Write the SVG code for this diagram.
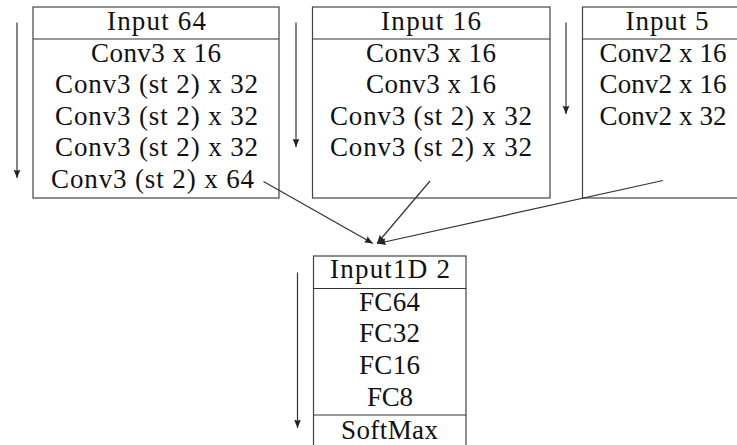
<svg xmlns="http://www.w3.org/2000/svg" width="737" height="445" viewBox="0 0 737 445">
<style>
.box{fill:#fff;stroke:#444;stroke-width:1.2}
.div{stroke:#333;stroke-width:1.2}
.t{font-family:"Liberation Serif","Times New Roman",serif;font-size:27px;fill:#111;text-anchor:middle}
.ts{font-family:"Liberation Serif","Times New Roman",serif;font-size:27px;fill:#111}
.c{stroke:#333;stroke-width:1.2;fill:none;marker-end:url(#ah)}
</style>
<defs>
<marker id="ah" markerUnits="userSpaceOnUse" markerWidth="10" markerHeight="8" refX="8.5" refY="3.5" orient="auto">
<path d="M0,0 L8.5,3.5 L0,7 Q2,3.5 0,0 z" fill="#222"/>
</marker>
</defs>
<rect width="737" height="445" fill="#fff"/>
<g id="input64">
<rect class="box" x="33" y="7" width="246" height="191"/>
<line class="div" x1="33" y1="39" x2="279" y2="39"/>
<text class="t" x="156.5" y="29.5" textLength="99">Input 64</text>
<text class="t" x="156" y="61.5" textLength="130">Conv3 x 16</text>
<text class="t" x="156.5" y="93" textLength="203">Conv3 (st 2) x 32</text>
<text class="t" x="156.5" y="124.5" textLength="203">Conv3 (st 2) x 32</text>
<text class="t" x="156.5" y="156" textLength="203">Conv3 (st 2) x 32</text>
<text class="t" x="152.5" y="187.5" textLength="203">Conv3 (st 2) x 64</text>
</g>
<g id="input16">
<rect class="box" x="312.5" y="7" width="237.5" height="191"/>
<line class="div" x1="312.5" y1="39" x2="550" y2="39"/>
<text class="t" x="431" y="29.5" textLength="100">Input 16</text>
<text class="t" x="431" y="61.5" textLength="130">Conv3 x 16</text>
<text class="t" x="431" y="93" textLength="130">Conv3 x 16</text>
<text class="t" x="431" y="124.5" textLength="202">Conv3 (st 2) x 32</text>
<text class="t" x="431" y="156" textLength="202">Conv3 (st 2) x 32</text>
</g>
<g id="input5">
<rect class="box" x="582.5" y="7" width="170" height="191"/>
<line class="div" x1="582.5" y1="39" x2="752.5" y2="39"/>
<text class="t" x="667" y="29.5" textLength="83">Input 5</text>
<text class="ts" x="599.5" y="61.5" textLength="127">Conv2 x 16</text>
<text class="ts" x="599.5" y="93" textLength="127">Conv2 x 16</text>
<text class="ts" x="599.5" y="124.5" textLength="127">Conv2 x 32</text>
</g>
<g id="input1d">
<rect class="box" x="313.5" y="256" width="152.5" height="200"/>
<line class="div" x1="313.5" y1="288.5" x2="466" y2="288.5"/>
<line class="div" x1="313.5" y1="415" x2="466" y2="415"/>
<text class="t" x="390" y="277.5" textLength="120">Input1D 2</text>
<text class="t" x="389.5" y="310.5" textLength="61">FC64</text>
<text class="t" x="389.5" y="342" textLength="61">FC32</text>
<text class="t" x="389.5" y="373.5" textLength="61">FC16</text>
<text class="t" x="390" y="405.5" textLength="46">FC8</text>
<text class="t" x="389.5" y="439" textLength="97">SoftMax</text>
</g>
<g id="connectors">
<line class="c" x1="17" y1="22.5" x2="17" y2="178"/>
<line class="c" x1="296" y1="22.5" x2="296" y2="147"/>
<line class="c" x1="566" y1="22.5" x2="566" y2="114"/>
<line class="c" x1="297.5" y1="272.5" x2="297.5" y2="428"/>
<line class="c" x1="263.5" y1="181.5" x2="373" y2="243.5"/>
<line class="c" x1="430" y1="181" x2="377" y2="243.5"/>
<line class="c" x1="663" y1="180.5" x2="377.5" y2="243.5"/>
</g>
</svg>
